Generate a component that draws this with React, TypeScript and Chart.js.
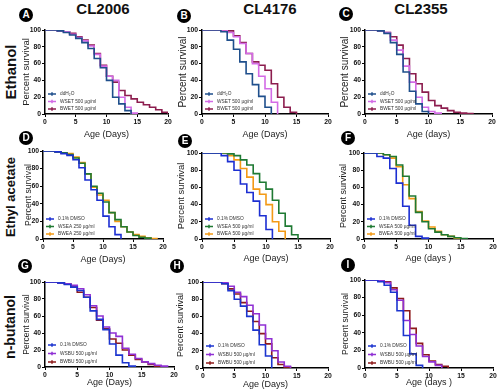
import React, { useEffect, useRef } from 'react';
import { Chart, registerables } from 'chart.js';
Chart.register(...registerables);

const FONT = '"Liberation Sans", Arial, Helvetica, sans-serif';

// ---- DATA (percent survival, index = age in days) ----
const columnTitles = ['CL2006', 'CL4176', 'CL2355'];
const rowTitles = ['Ethanol', 'Ethyl acetate', 'n-butanol'];
const panelLetters = ['A', 'B', 'C', 'D', 'E', 'F', 'G', 'H', 'I'];
const xTickValues = [0, 5, 10, 15, 20];
const yTickValues = [0, 20, 40, 60, 80, 100];

const labelsA = ['ddH₂O', 'WSET 500 µg/ml', 'BWET 500 µg/ml'];
const labelsB = ['ddH₂O', 'WSET 500 µg/ml', 'BWET 500 µg/ml'];
const labelsC = ['ddH₂O', 'WSET 500 µg/ml', 'BWET 500 µg/ml'];
const labelsD = ['0.1% DMSO', 'WSEA 250 µg/ml', 'BWEA 250 µg/ml'];
const labelsE = ['0.1% DMSO', 'WSEA 500 µg/ml', 'BWEA 500 µg/ml'];
const labelsF = ['0.1% DMSO', 'WSEA 500 µg/ml', 'BWEA 500 µg/ml'];
const labelsG = ['0.1% DMSO', 'WSBU 500 µg/ml', 'BWBU 500 µg/ml'];
const labelsH = ['0.1% DMSO', 'WSBU 500 µg/ml', 'BWBU 500 µg/ml'];
const labelsI = ['0.1% DMSO', 'WSBU 500 µg/ml', 'BWBU 500 µg/ml'];

const A1 = [100, 100, 99, 97, 94, 90, 85, 78, 66, 55, 40, 20, 12, 4, 0];
const A2 = [100, 100, 99, 98, 95, 91, 87, 81, 71, 57, 45, 40, 20, 8, 1, 0];
const A3 = [100, 100, 99, 98, 96, 92, 88, 82, 72, 58, 45, 38, 28, 22, 18, 14, 11, 8, 5, 2, 0];

const B1 = [100, 100, 100, 98, 88, 77, 62, 48, 35, 21, 8, 0];
const B2 = [100, 100, 100, 100, 97, 92, 84, 72, 60, 45, 30, 14, 0];
const B3 = [100, 100, 100, 100, 99, 93, 85, 72, 62, 58, 52, 36, 20, 8, 2, 0];

const C1 = [100, 100, 99, 96, 85, 71, 50, 27, 12, 3, 0];
const C2 = [100, 100, 99, 97, 88, 76, 57, 38, 20, 8, 3, 1, 0];
const C3 = [100, 100, 99, 97, 92, 82, 66, 48, 36, 26, 16, 10, 7, 4, 2, 1, 0.5, 0];

const D1 = [100, 100, 99, 97, 95, 90, 81, 67, 56, 44, 26, 14, 5, 0];
const D2 = [100, 100, 99, 98, 96, 92, 86, 74, 60, 52, 42, 30, 22, 14, 8, 4, 2, 1, 0];
const D3 = [100, 100, 99, 98, 97, 93, 87, 74, 59, 50, 44, 30, 20, 14, 8, 5, 3, 1.5, 0.5, 0];

const E1 = [100, 100, 100, 97, 90, 80, 64, 54, 44, 27, 11, 0];
const E2 = [100, 100, 100, 100, 99, 97, 92, 86, 76, 66, 58, 45, 30, 15, 5, 0];
const E3 = [100, 100, 100, 100, 97, 92, 82, 72, 58, 52, 40, 20, 9, 0];

const F1 = [100, 100, 96, 94, 82, 65, 38, 16, 3, 1, 0];
const F2 = [100, 100, 100, 98, 96, 86, 73, 50, 31, 20, 12, 8, 5, 3, 1.5, 0.5, 0];
const F3 = [100, 100, 100, 98, 94, 84, 63, 47, 32, 21, 14, 9, 5, 3, 1, 0];

const G1 = [100, 100, 99, 97, 94, 90, 82, 66, 56, 44, 27, 14, 5, 1, 0];
const G2 = [100, 100, 99, 98, 96, 92, 85, 72, 60, 47, 40, 36, 22, 15, 10, 6, 4, 2, 1, 0];
const G3 = [100, 100, 99, 98, 94, 88, 82, 70, 55, 45, 33, 28, 20, 14, 9, 6, 3, 1, 0];

const H1 = [100, 100, 100, 98, 90, 80, 72, 60, 44, 27, 14, 0];
const H2 = [100, 100, 100, 99, 95, 88, 83, 73, 63, 50, 34, 20, 7, 2, 0];
const H3 = [100, 100, 100, 98, 92, 86, 76, 66, 54, 40, 28, 12, 4, 1, 0];

const I1 = [100, 100, 98, 94, 86, 65, 37, 16, 3, 0];
const I2 = [100, 100, 99, 97, 89, 77, 54, 38, 25, 13, 7, 3, 0];
const I3 = [100, 100, 99, 98, 91, 79, 65, 45, 28, 15, 8, 4, 2, 0];

// ---- STYLE / LAYOUT ----
const row1Colors = ['#1f4f8c', '#d36be6', '#8c1d4e'];
const row2Colors = ['#1c2fd2', '#1f7a33', '#f39a16'];
const row3Colors = ['#1c35cf', '#9030d4', '#8e1b1b'];

type Spec = {
  l: number; r: number; t: number; b: number;
  ytX: number; ytS: number; xtY: number; xTitle: string;
  series: number[][]; labels: string[]; colors: string[];
  legGap: number;
};

const specs: Spec[] = [
  { l: 45, r: 168, t: 30, b: 114, ytX: 27, ytS: 9.5, xtY: 135, xTitle: 'Age (Days)', series: [A1, A2, A3], labels: labelsA, colors: row1Colors, legGap: 7.5 },
  { l: 202, r: 328, t: 30, b: 114, ytX: 183, ytS: 10, xtY: 135, xTitle: 'Age (Days)', series: [B1, B2, B3], labels: labelsB, colors: row1Colors, legGap: 7.5 },
  { l: 365, r: 492, t: 30, b: 114, ytX: 345, ytS: 10, xtY: 135, xTitle: 'Age (days)', series: [C1, C2, C3], labels: labelsC, colors: row1Colors, legGap: 7.5 },
  { l: 43, r: 163, t: 151, b: 239, ytX: 28, ytS: 8.7, xtY: 260, xTitle: 'Age (Days)', series: [D1, D2, D3], labels: labelsD, colors: row2Colors, legGap: 7.5 },
  { l: 202, r: 330, t: 153, b: 239, ytX: 182, ytS: 9.4, xtY: 259, xTitle: 'Age (Days)', series: [E1, E2, E3], labels: labelsE, colors: row2Colors, legGap: 7.5 },
  { l: 364, r: 493, t: 153, b: 239, ytX: 343, ytS: 9, xtY: 259, xTitle: 'Age (days )', series: [F1, F2, F3], labels: labelsF, colors: row2Colors, legGap: 7.5 },
  { l: 45, r: 174, t: 282, b: 367, ytX: 27, ytS: 8.5, xtY: 383, xTitle: 'Age (Days)', series: [G1, G2, G3], labels: labelsG, colors: row3Colors, legGap: 8.5 },
  { l: 203, r: 328, t: 282, b: 368, ytX: 180, ytS: 9, xtY: 385, xTitle: 'Age (Days)', series: [H1, H2, H3], labels: labelsH, colors: row3Colors, legGap: 8.5 },
  { l: 365, r: 493, t: 280, b: 368, ytX: 345, ytS: 8.7, xtY: 383, xTitle: 'Age (days )', series: [I1, I2, I3], labels: labelsI, colors: row3Colors, legGap: 8.5 },
];

const letterPos = [
  [26, 15], [184, 16], [346, 14],
  [26, 138], [185, 141], [348, 138],
  [25, 266], [177, 266], [348, 265],
];
const colTitleX = [103, 270, 421];
const rowTitleY = [72, 197, 327];
const rowTitleSize = [15, 13, 14];

const innerLegend = {
  id: 'innerLegend',
  afterDatasetsDraw(chart: any, _args: any, opts: any) {
    const { ctx, chartArea } = chart;
    const ds = chart.data.datasets;
    ctx.save();
    ctx.font = `4.8px ${FONT}`;
    ctx.textBaseline = 'middle';
    ctx.textAlign = 'left';
    ds.forEach((d: any, i: number) => {
      const y = chartArea.bottom - 5 - (ds.length - 1 - i) * opts.gap;
      const x0 = chartArea.left + 3;
      ctx.strokeStyle = d.borderColor;
      ctx.lineWidth = 1.5;
      ctx.beginPath();
      ctx.moveTo(x0, y);
      ctx.lineTo(x0 + 8, y);
      ctx.moveTo(x0 + 4, y - 1.8);
      ctx.lineTo(x0 + 4, y + 1.8);
      ctx.stroke();
      ctx.fillStyle = '#333';
      ctx.fillText(d.label, x0 + 12, y);
    });
    ctx.restore();
  },
};

function Panel({ spec }: { spec: Spec }) {
  const ref = useRef<HTMLCanvasElement>(null);
  const L = Math.round(spec.ytX - spec.ytS * 0.6);
  const T = spec.t - 6;
  const R = spec.r + 8;
  const B = Math.round(spec.xtY + 9 * 0.6);
  const yw = spec.l - L;
  const xh = B - spec.b;
  const w = R - L;
  const h = B - T;

  useEffect(() => {
    const canvas = ref.current!;
    const tickFont = { family: FONT, size: 6.8, weight: 'bold' as const };
    const chart = new Chart(canvas, {
      type: 'line',
      data: {
        datasets: spec.series.map((vals, si) => ({
          label: spec.labels[si],
          data: vals.map((v, day) => ({ x: day, y: v })),
          borderColor: spec.colors[si],
          backgroundColor: spec.colors[si],
          borderWidth: 1.6,
          stepped: 'before' as const,
          pointRadius: 0,
          fill: false,
        })),
      },
      options: {
        responsive: false,
        animation: false,
        devicePixelRatio: 1,
        layout: { padding: { top: 6, right: 8, left: 0, bottom: 0 } },
        plugins: {
          legend: { display: false },
          tooltip: { enabled: false },
          innerLegend: { gap: spec.legGap },
        } as any,
        scales: {
          x: {
            type: 'linear',
            min: 0,
            max: 20,
            afterBuildTicks: (s: any) => { s.ticks = xTickValues.map((v) => ({ value: v })); },
            ticks: { font: tickFont, color: '#111', padding: 1, maxRotation: 0 },
            grid: { drawOnChartArea: false, drawTicks: true, tickLength: 3, color: '#000', lineWidth: 1 },
            border: { color: '#000', width: 1.5 },
            title: { display: true, text: spec.xTitle, font: { family: FONT, size: 9 }, color: '#222', padding: 0 },
            afterFit: (s: any) => { s.height = xh; },
          },
          y: {
            type: 'linear',
            min: 0,
            max: 100,
            afterBuildTicks: (s: any) => { s.ticks = yTickValues.map((v) => ({ value: v })); },
            ticks: { font: tickFont, color: '#111', padding: 1 },
            grid: { drawOnChartArea: false, drawTicks: true, tickLength: 3, color: '#000', lineWidth: 1 },
            border: { color: '#000', width: 1.5 },
            title: { display: true, text: 'Percent survival', font: { family: FONT, size: spec.ytS }, color: '#222', padding: 0 },
            afterFit: (s: any) => { s.width = yw; },
          },
        },
      } as any,
      plugins: [innerLegend],
    });
    return () => chart.destroy();
  }, []);

  return (
    <canvas
      ref={ref}
      width={w}
      height={h}
      style={{ position: 'absolute', left: L, top: T, width: w, height: h }}
    />
  );
}

export default function App() {
  return (
    <div
      style={{
        position: 'fixed', left: 0, top: 0, width: 500, height: 392,
        background: '#fff', overflow: 'hidden', fontFamily: FONT,
      }}
    >
      {specs.map((s, i) => <Panel key={i} spec={s} />)}
      {columnTitles.map((t, i) => (
        <div key={'c' + i} style={{
          position: 'absolute', left: colTitleX[i], top: 8, transform: 'translate(-50%, -50%)',
          fontWeight: 'bold', fontSize: 15, color: '#111', whiteSpace: 'nowrap', lineHeight: 1,
        }}>{t}</div>
      ))}
      {rowTitles.map((t, i) => (
        <div key={'r' + i} style={{
          position: 'absolute', left: 10, top: rowTitleY[i], transform: 'translate(-50%, -50%) rotate(-90deg)',
          fontWeight: 'bold', fontSize: rowTitleSize[i], color: '#111', whiteSpace: 'nowrap', lineHeight: 1,
        }}>{t}</div>
      ))}
      {panelLetters.map((t, i) => (
        <div key={'p' + i} style={{
          position: 'absolute', left: letterPos[i][0] - 7, top: letterPos[i][1] - 7, width: 14, height: 14,
          borderRadius: '50%', background: '#000', color: '#fff', fontWeight: 'bold', fontSize: 10,
          display: 'flex', alignItems: 'center', justifyContent: 'center', lineHeight: 1,
        }}>{t}</div>
      ))}
    </div>
  );
}
